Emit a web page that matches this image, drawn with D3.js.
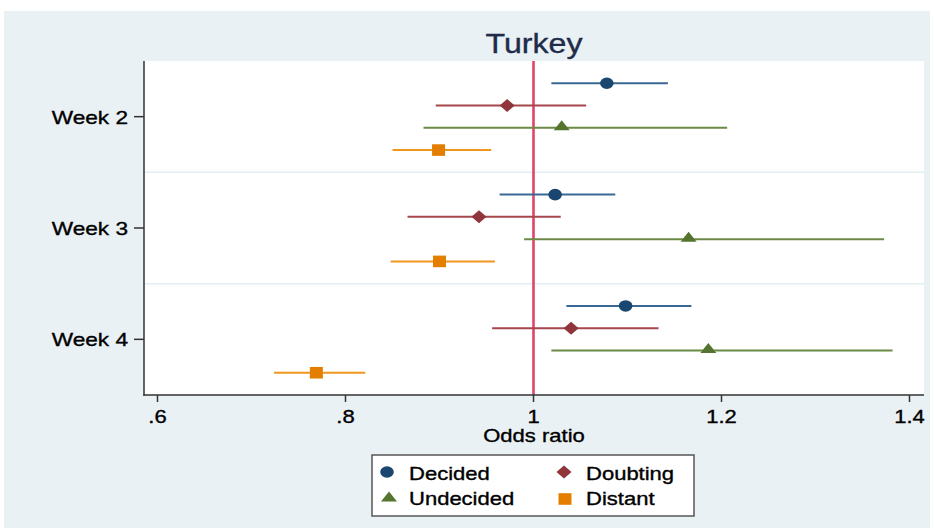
<!DOCTYPE html>
<html><head><meta charset="utf-8">
<script src="https://cdn.jsdelivr.net/npm/d3@7"></script>
<style>html,body{margin:0;padding:0;background:#fff;}svg{display:block;}</style>
</head><body>
<svg id="c" width="934" height="530"></svg>
<script>
// ---- data ----
const weeks = ["Week 2", "Week 3", "Week 4"];
const groups = ["Decided", "Doubting", "Undecided", "Distant"];
const decidedOR  = [1.078, 1.023, 1.098];
const decidedLo  = [1.019, 0.964, 1.035];
const decidedHi  = [1.143, 1.087, 1.168];
const doubtingOR = [0.972, 0.942, 1.040];
const doubtingLo = [0.896, 0.866, 0.956];
const doubtingHi = [1.056, 1.029, 1.133];
const undecidedOR = [1.030, 1.165, 1.186];
const undecidedLo = [0.883, 0.990, 1.019];
const undecidedHi = [1.206, 1.373, 1.382];
const distantOR  = [0.899, 0.900, 0.769];
const distantLo  = [0.850, 0.848, 0.724];
const distantHi  = [0.955, 0.959, 0.821];
const xTicks = [0.6, 0.8, 1.0, 1.2, 1.4];
const xTickLabels = [".6", ".8", "1", "1.2", "1.4"];
const refValue = 1;

const seriesOR = [decidedOR, doubtingOR, undecidedOR, distantOR];
const seriesLo = [decidedLo, doubtingLo, undecidedLo, distantLo];
const seriesHi = [decidedHi, doubtingHi, undecidedHi, distantHi];

// ---- styles ----
const markColor = ["#1a476f", "#90353b", "#55752f", "#e37e00"];
const lineColor = ["#3a6894", "#a6464d", "#6b8a45", "#f0961c"];
const FONT = "'Liberation Sans', Arial, Helvetica, sans-serif";
const SX = 1.19; // horizontal stretch of the original image

const svg = d3.select("#c");
const L = 144, R = 924, T = 61, B = 395;

// background
svg.append("rect").attr("x", 4).attr("y", 11).attr("width", 926).attr("height", 517).attr("fill", "#eaf1f4");
svg.append("rect").attr("x", L).attr("y", T).attr("width", R - L).attr("height", B - T).attr("fill", "#ffffff");

const x = d3.scaleLinear()
  .domain([1 + (L - 533.5) / 940, 1 + (R - 533.5) / 940])
  .range([L, R]);
const y = d3.scaleLinear().domain([0, 15]).range([T, B]);

function rowPos(w, g) { return w * 5 + g + 1; }

function txt(g, s, tx, ty, size, anchor, color) {
  const c = color || "#000";
  return g.append("text")
    .attr("transform", `translate(${tx},${ty}) scale(${SX},1)`)
    .attr("text-anchor", anchor)
    .attr("font-family", FONT)
    .attr("font-size", size)
    .attr("fill", c)
    .attr("stroke", c)
    .attr("stroke-width", 0.35)
    .text(s);
}

// separators between weeks
[5, 10].forEach(p => {
  svg.append("line").attr("x1", L).attr("x2", R).attr("y1", y(p)).attr("y2", y(p))
    .attr("stroke", "#e4edf2").attr("stroke-width", 1.5);
});

// marker shapes
function markerPath(g) {
  if (g === 1) return "M-7.5,0L0,-6.5L7.5,0L0,6.5Z";
  if (g === 2) return "M-8,2.5L0,-7.5L8,2.5Z";
  return "M-6.5,-5.8H6.5V5.8H-6.5Z";
}
function drawMarker(sel, g, cx, cy) {
  if (g === 0) {
    sel.append("ellipse").attr("cx", cx).attr("cy", cy).attr("rx", 6.8).attr("ry", 5.8).attr("fill", markColor[0]);
  } else {
    sel.append("path").attr("d", markerPath(g)).attr("transform", `translate(${cx},${cy})`).attr("fill", markColor[g]);
  }
}

// reference line at x = 1
svg.append("line").attr("x1", x(refValue)).attr("x2", x(refValue)).attr("y1", T).attr("y2", B)
  .attr("stroke", "#de4569").attr("stroke-width", 2.6);

// CI lines and markers
const plot = svg.append("g");
weeks.forEach((wk, w) => {
  groups.forEach((gr, g) => {
    const yy = y(rowPos(w, g));
    plot.append("line")
      .attr("x1", x(seriesLo[g][w])).attr("x2", x(seriesHi[g][w]))
      .attr("y1", yy).attr("y2", yy)
      .attr("stroke", lineColor[g]).attr("stroke-width", 2);
  });
});
weeks.forEach((wk, w) => {
  groups.forEach((gr, g) => {
    drawMarker(plot, g, x(seriesOR[g][w]), y(rowPos(w, g)));
  });
});

// axes
const axisColor = "#333";
svg.append("line").attr("x1", L).attr("x2", L).attr("y1", T).attr("y2", B + 0.75)
  .attr("stroke", axisColor).attr("stroke-width", 1.5);
svg.append("line").attr("x1", L - 0.75).attr("x2", R).attr("y1", B).attr("y2", B)
  .attr("stroke", axisColor).attr("stroke-width", 1.5);

// x ticks
xTicks.forEach((t, i) => {
  svg.append("line").attr("x1", x(t)).attr("x2", x(t)).attr("y1", B).attr("y2", B + 7)
    .attr("stroke", axisColor).attr("stroke-width", 1.5);
  txt(svg, xTickLabels[i], x(t), 423, 18.5, "middle");
});
txt(svg, "Odds ratio", (L + R) / 2, 442, 18.5, "middle");

// y ticks (weeks)
weeks.forEach((wk, w) => {
  const yy = y(w * 5 + 2.5);
  svg.append("line").attr("x1", L - 10).attr("x2", L).attr("y1", yy).attr("y2", yy)
    .attr("stroke", axisColor).attr("stroke-width", 1.5);
  txt(svg, wk, L - 16, yy + 7, 19, "end");
});

// title
txt(svg, "Turkey", (L + R) / 2, 53, 27, "middle", "#1f2b4a");

// legend
svg.append("rect").attr("x", 372).attr("y", 455).attr("width", 322).attr("height", 61)
  .attr("fill", "#fff").attr("stroke", "#555").attr("stroke-width", 1.5);
const legPos = [[387, 472, 409, 480], [564, 472, 586, 480], [389, 499, 409, 505], [565, 499, 586, 505]];
groups.forEach((gr, g) => {
  const p = legPos[g];
  drawMarker(svg, g, p[0], p[1]);
  txt(svg, gr, p[2], p[3], 18.5, "start");
});
</script>
</body></html>
